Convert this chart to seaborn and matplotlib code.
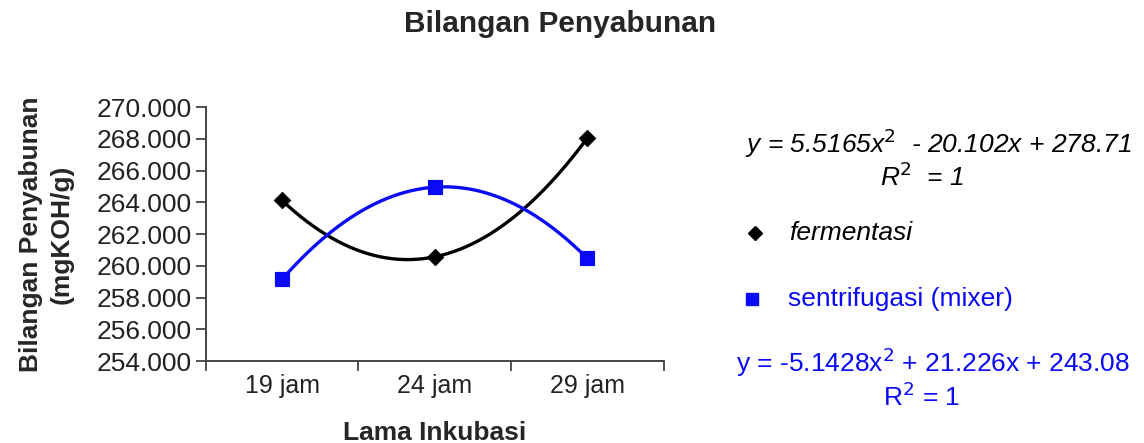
import numpy as np
import pandas as pd
import matplotlib
matplotlib.use("Agg")
import matplotlib.pyplot as plt
import seaborn as sns

# Saponification number per incubation time
categories = ["19 jam", "24 jam", "29 jam"]
fermentasi = [264.12, 260.57, 268.05]
sentrifugasi = [259.16, 264.96, 260.47]
y_ticks = [254, 256, 258, 260, 262, 264, 266, 268, 270]

sns.set_theme(style="white")
plt.rcParams["font.family"] = ["Liberation Sans", "DejaVu Sans"]

BLUE = "#0A0AF5"
FS = 19

fig = plt.figure(figsize=(11.44, 4.43), dpi=100)
ax = fig.add_axes([0.180, 0.185, 0.400, 0.573])

pos = np.arange(len(categories))
df = pd.DataFrame({"pos": pos, "fermentasi": fermentasi, "sentrifugasi": sentrifugasi})

# Second-order polynomial trend lines over x = 1..3
xs = np.linspace(1, 3, 200)
for col, color in [("fermentasi", "black"), ("sentrifugasi", BLUE)]:
    coef = np.polyfit(pos + 1, df[col], 2)
    trend = pd.DataFrame({"x": xs - 1, "y": np.polyval(coef, xs)})
    sns.lineplot(data=trend, x="x", y="y", ax=ax, color=color, lw=2.4)

sns.scatterplot(data=df, x="pos", y="fermentasi", ax=ax, marker="D", s=70,
                color="black", edgecolor="black", zorder=5)
sns.scatterplot(data=df, x="pos", y="sentrifugasi", ax=ax, marker="s", s=110,
                color=BLUE, edgecolor=BLUE, zorder=5)

ax.set_xlim(-0.5, 2.5)
ax.set_ylim(254, 270)
ax.set_yticks(y_ticks)
ax.set_yticklabels([f"{v:.3f}" for v in y_ticks], fontsize=FS, color="#222222")
ax.set_xticks([-0.5, 0.5, 1.5, 2.5])
ax.set_xticklabels([])
ax.set_xticks(pos, minor=True)
ax.set_xticklabels(categories, minor=True, fontsize=18, color="#222222")
ax.tick_params(axis="x", which="major", direction="out", length=7, width=1.3,
               color="#444444", bottom=True)
ax.tick_params(axis="x", which="minor", length=0, pad=9)
ax.tick_params(axis="y", direction="out", length=7, width=1.3, color="#444444",
               left=True, pad=3)

for side in ["top", "right"]:
    ax.spines[side].set_visible(False)
for side in ["left", "bottom"]:
    ax.spines[side].set_color("#444444")
    ax.spines[side].set_linewidth(1.4)

ax.set_xlabel("Lama Inkubasi", fontsize=19, fontweight="bold", labelpad=17)
ax.set_ylabel("Bilangan Penyabunan\n(mgKOH/g)", fontsize=19, fontweight="bold",
              labelpad=17, linespacing=1.35)

fig.text(0.49, 0.946, "Bilangan Penyabunan", ha="center", va="center",
         fontsize=21.5, fontweight="bold")

# Trend equations and legend on the right
fig.text(0.820, 0.677, r"y = 5.5165x$^2$  - 20.102x + 278.71", ha="center",
         va="center", fontsize=FS, style="italic", color="black")
fig.text(0.806, 0.600, r"R$^2$  = 1", ha="center", va="center", fontsize=FS,
         style="italic", color="black")
fig.text(0.690, 0.474, "fermentasi", ha="left", va="center", fontsize=FS,
         style="italic", color="black")
fig.text(0.689, 0.326, "sentrifugasi (mixer)", ha="left", va="center",
         fontsize=FS, color=BLUE)
fig.text(0.816, 0.183, r"y = -5.1428x$^2$ + 21.226x + 243.08", ha="center",
         va="center", fontsize=FS, color=BLUE)
fig.text(0.806, 0.104, r"R$^2$ = 1", ha="center", va="center", fontsize=FS,
         color=BLUE)
fig.lines.append(plt.Line2D([0.660], [0.474], transform=fig.transFigure,
                            marker="D", ms=7.5, color="black", ls=""))
fig.lines.append(plt.Line2D([0.657], [0.326], transform=fig.transFigure,
                            marker="s", ms=8.5, color=BLUE, ls=""))

fig.savefig("out.png", dpi=100)
